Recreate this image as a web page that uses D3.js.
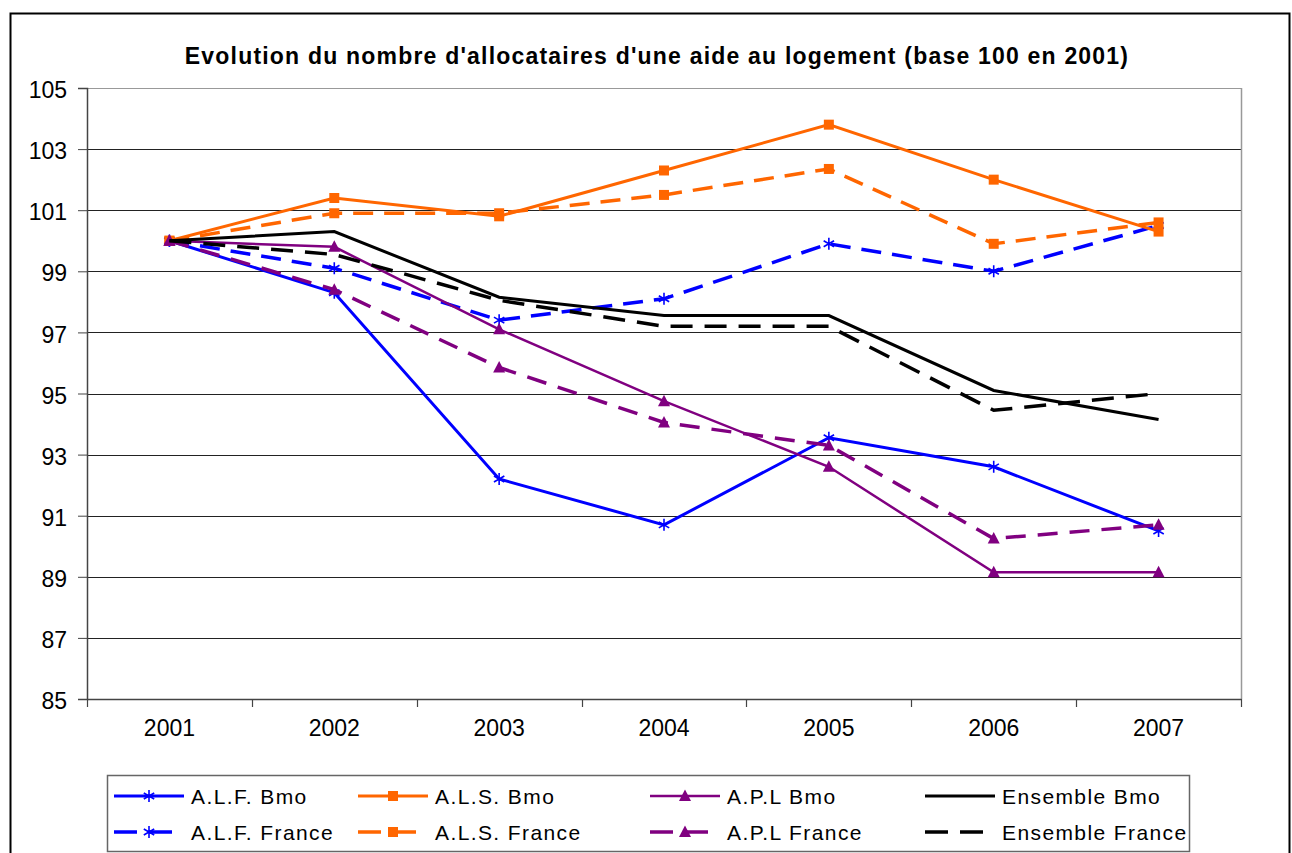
<!DOCTYPE html>
<html>
<head>
<meta charset="utf-8">
<script src="https://cdn.jsdelivr.net/npm/d3@7"></script>
<style>
  body { margin: 0; background: #fff; }
  text { font-family: "Liberation Sans", Arial, sans-serif; }
</style>
</head>
<body>
<div id="chart"></div>
<script>
// data
const years = ["2001", "2002", "2003", "2004", "2005", "2006", "2007"];
const yTicks = [85, 87, 89, 91, 93, 95, 97, 99, 101, 103, 105];

const alfBmo = [100, 98.3, 92.2, 90.7, 93.55, 92.6, 90.5];
const alfFrance = [100, 99.1, 97.4, 98.1, 99.9, 99.0, 100.5];
const alsBmo = [100, 101.4, 100.8, 102.3, 103.8, 102.0, 100.3];
const alsFrance = [100, 100.9, 100.9, 101.5, 102.35, 99.9, 100.6];
const aplBmo = [100, 99.8, 97.1, 94.75, 92.6, 89.15, 89.15];
const aplFrance = [100, 98.4, 95.85, 94.05, 93.3, 90.25, 90.7];
const ensBmo = [100, 100.3, 98.15, 97.55, 97.55, 95.1, 94.15];
const ensFrance = [100, 99.55, 98.05, 97.2, 97.2, 94.45, 95.0];

const seriesNames = ["A.L.F. Bmo", "A.L.S. Bmo", "A.P.L Bmo", "Ensemble Bmo",
                     "A.L.F. France", "A.L.S. France", "A.P.L France", "Ensemble France"];

const series = [
  { name: "A.L.F. Bmo", values: alfBmo, color: "#0000ff", dash: null, marker: "star", w: 3 },
  { name: "A.L.F. France", values: alfFrance, color: "#0000ff", dash: "20,11", marker: "star", w: 3.5 },
  { name: "A.L.S. Bmo", values: alsBmo, color: "#ff6600", dash: null, marker: "square", w: 3 },
  { name: "A.L.S. France", values: alsFrance, color: "#ff6600", dash: "20,11", marker: "square", w: 3.5 },
  { name: "A.P.L Bmo", values: aplBmo, color: "#800080", dash: null, marker: "triangle", w: 2.5 },
  { name: "A.P.L France", values: aplFrance, color: "#800080", dash: "20,12", marker: "triangle", w: 3.5 },
  { name: "Ensemble Bmo", values: ensBmo, color: "#000000", dash: null, marker: null, w: 3 },
  { name: "Ensemble France", values: ensFrance, color: "#000000", dash: "22,12", marker: null, w: 3.5 },
];

const width = 1292;
const height = 853;
const plot = { left: 87, right: 1241, top: 88, bottom: 699 };

const svg = d3.select("#chart")
  .append("svg")
  .attr("width", width)
  .attr("height", height);

// outer frame
svg.append("rect")
  .attr("x", 10.5).attr("y", 13.5)
  .attr("width", 1279).attr("height", 900)
  .attr("fill", "none").attr("stroke", "#000").attr("stroke-width", 2);

svg.append("text")
  .attr("x", 657).attr("y", 64)
  .attr("text-anchor", "middle")
  .attr("font-size", 23).attr("font-weight", "bold")
  .attr("letter-spacing", 1.2)
  .text("Evolution du nombre d'allocataires d'une aide au logement (base 100 en 2001)");

const x = d3.scaleBand().domain(years).range([plot.left, plot.right]).padding(0);
const y = d3.scaleLinear().domain([85, 105]).range([plot.bottom, plot.top]);
const cx = d => x(d) + x.bandwidth() / 2;

// gridlines
svg.append("g")
  .selectAll("line")
  .data(yTicks.filter(d => d > 85))
  .join("line")
  .attr("x1", plot.left).attr("x2", plot.right)
  .attr("y1", d => Math.round(y(d)) + 0.5).attr("y2", d => Math.round(y(d)) + 0.5)
  .attr("stroke", d => d === 105 ? "#999" : "#222")
  .attr("stroke-width", 1.2);

// plot area right border
svg.append("line")
  .attr("x1", plot.right + 0.5).attr("x2", plot.right + 0.5)
  .attr("y1", plot.top).attr("y2", plot.bottom)
  .attr("stroke", "#999").attr("stroke-width", 1.5);

// y axis
const yAxis = svg.append("g")
  .attr("transform", `translate(${plot.left},0)`)
  .call(d3.axisLeft(y).tickValues(yTicks).tickSize(9).tickPadding(11).tickFormat(d3.format("d")));
yAxis.select(".domain").attr("stroke", "#444").attr("stroke-width", 1.5);
yAxis.selectAll(".tick line").attr("stroke", "#444");
yAxis.selectAll("text").attr("font-size", 23).attr("fill", "#000").attr("dy", "0.42em")
  .style("font-family", "Liberation Sans, Arial, sans-serif");

// x axis
const xAxis = svg.append("g")
  .attr("transform", `translate(0,${plot.bottom})`)
  .call(d3.axisBottom(x).tickSize(0).tickPadding(21));
xAxis.select(".domain").attr("stroke", "#444").attr("stroke-width", 1.5);
xAxis.selectAll("text").attr("font-size", 23).attr("fill", "#000")
  .style("font-family", "Liberation Sans, Arial, sans-serif");
xAxis.append("g")
  .selectAll("line")
  .data(years.map(d => x(d)).concat([plot.right]))
  .join("line")
  .attr("x1", d => Math.round(d) + 0.5).attr("x2", d => Math.round(d) + 0.5)
  .attr("y1", 0).attr("y2", 8)
  .attr("stroke", "#444").attr("stroke-width", 1.2);

// marker shapes
function markerPath(type) {
  if (type === "star") return "M0,-6V6M-5.2,-3L5.2,3M-5.2,3L5.2,-3";
  if (type === "square") return "M-5,-5H5V5H-5Z";
  if (type === "triangle") return "M0,-6.5L6,5H-6Z";
  return null;
}

function drawMarker(g, s, px, py) {
  if (!s.marker) return;
  const p = g.append("path")
    .attr("d", markerPath(s.marker))
    .attr("transform", `translate(${px},${py})`);
  if (s.marker === "star") {
    p.attr("fill", "none").attr("stroke", s.color).attr("stroke-width", 1.6);
  } else {
    p.attr("fill", s.color).attr("stroke", "none");
  }
}

const line = d3.line()
  .x((d, i) => cx(years[i]))
  .y(d => y(d));

const linesG = svg.append("g");
series.forEach(s => {
  linesG.append("path")
    .datum(s.values)
    .attr("d", line)
    .attr("fill", "none")
    .attr("stroke", s.color)
    .attr("stroke-width", s.w)
    .attr("stroke-dasharray", s.dash)
    .attr("stroke-linejoin", "miter");
  s.values.forEach((v, i) => drawMarker(linesG, s, cx(years[i]), y(v)));
});

// legend
const legend = svg.append("g");
legend.append("rect")
  .attr("x", 107.5).attr("y", 775.5)
  .attr("width", 1082).attr("height", 76)
  .attr("fill", "#fff").attr("stroke", "#666").attr("stroke-width", 1.5);

const colX = [114, 358, 650, 925];
const rowY = [796, 832];
seriesNames.forEach((name, k) => {
  const s = series.find(d => d.name === name);
  const col = k % 4, row = Math.floor(k / 4);
  const x0 = colX[col], yy = rowY[row];
  const g = legend.append("g");
  g.append("line")
    .attr("x1", x0).attr("x2", x0 + 70)
    .attr("y1", yy).attr("y2", yy)
    .attr("stroke", s.color)
    .attr("stroke-width", s.w)
    .attr("stroke-dasharray", s.dash ? "23,12" : null);
  drawMarker(g, s, x0 + 35, yy);
  g.append("text")
    .attr("x", x0 + 77).attr("y", yy + 8)
    .attr("font-size", 21)
    .attr("letter-spacing", 1.4)
    .text(name);
});
</script>
</body>
</html>
